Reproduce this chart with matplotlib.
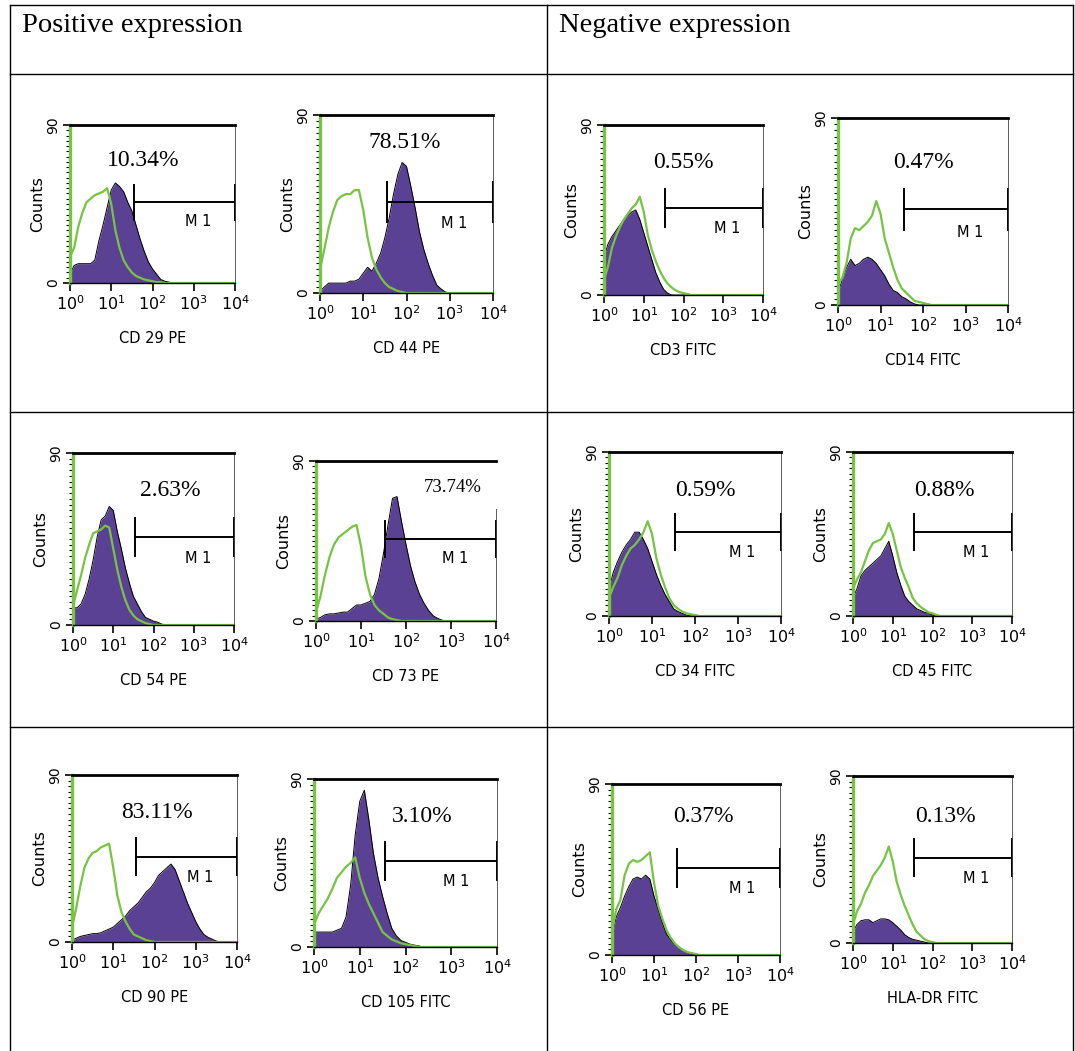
import numpy as np
import matplotlib.pyplot as plt
from matplotlib.ticker import LogLocator, MultipleLocator, NullFormatter
from matplotlib.patches import Rectangle

# channel positions in decades (0 .. 4), histogram values
DECADES = np.round(np.arange(0, 4.05, 0.1), 1)

CD29_PURPLE = [5, 10, 11, 11, 11, 11, 13, 24, 33, 43, 53, 57, 55, 52, 46, 41, 33, 25, 18, 12, 8, 5, 2, 1, 0.5, 0]
CD29_GREEN = [15, 20, 32, 40, 46, 48, 50, 51, 52, 54, 45, 30, 20, 13, 9, 6, 4, 3, 2, 1.5, 1, 0.5, 0.5, 0]
CD44_PURPLE = [1, 3, 5, 5, 5, 5, 5, 6, 6, 7, 10, 13, 11, 15, 20, 28, 38, 50, 60, 66, 64, 54, 43, 31, 22, 15, 9, 4, 2, 0.5, 0]
CD44_GREEN = [12, 22, 33, 41, 47, 49, 50, 50, 52, 52, 42, 28, 18, 12, 8, 5, 3, 2, 1, 0.5, 0]
CD3_PURPLE = [20, 27, 31, 34, 37, 40, 42, 44, 45, 40, 33, 26, 19, 12, 7, 3, 1, 0]
CD3_GREEN = [8, 15, 25, 31, 36, 40, 43, 46, 48, 52, 44, 32, 24, 18, 13, 9, 6, 4, 2.5, 1.5, 1, 0.5, 0]
CD14_PURPLE = [6, 12, 18, 22, 19, 20, 22, 23, 22, 20, 17, 14, 10, 7, 6, 4, 3, 1.5, 0.5, 0]
CD14_GREEN = [10, 13, 20, 32, 37, 36, 38, 40, 43, 50, 44, 32, 25, 18, 12, 8, 6, 4, 2, 1.5, 1, 0.5, 0]
CD54_PURPLE = [9, 9, 11, 16, 24, 34, 46, 55, 57, 62, 60, 49, 40, 30, 22, 15, 11, 7, 4, 3, 2, 1.5, 0.5, 0]
CD54_GREEN = [10, 18, 26, 35, 42, 48, 49, 50, 52, 51, 40, 29, 20, 13, 8, 5, 3, 2, 1, 0.5, 0]
CD73_PURPLE = [1, 2, 3.5, 4, 4, 4.5, 5, 5, 7, 9, 9, 10, 11, 15, 24, 38, 54, 69, 70, 56, 43, 31, 22, 15, 10, 6, 3, 1.5, 0.5, 0]
CD73_GREEN = [5, 14, 26, 36, 43, 47, 49, 51, 53, 54, 42, 25, 15, 9, 6, 4, 2, 1, 0.5, 0]
CD34_PURPLE = [15, 24, 30, 35, 39, 42, 46, 46, 42, 37, 30, 23, 17, 12, 8, 4, 2.5, 1.5, 0.5, 0]
CD34_GREEN = [10, 16, 21, 28, 33, 37, 39, 42, 46, 52, 45, 32, 23, 16, 10, 6, 4, 2.5, 1.5, 1, 0.5, 0]
CD45_PURPLE = [10, 15, 22, 25, 27, 29, 31, 33, 37, 41, 33, 24, 17, 11, 8, 6, 4, 3, 2, 1.5, 0.5, 0]
CD45_GREEN = [15, 20, 24, 30, 36, 40, 41, 42, 45, 51, 45, 36, 27, 21, 16, 10, 7, 5, 3.5, 2, 1.5, 0.5, 0]
CD90_PURPLE = [1, 2, 3, 3.5, 4, 4.5, 4.5, 5, 6, 7, 8, 10, 12, 14, 17, 19, 21, 24, 27, 29, 32, 36, 38, 40, 42,
               39, 33, 27, 21, 16, 11, 7, 4, 2.5, 1.5, 0.5, 0]
CD90_GREEN = [8, 18, 30, 40, 45, 48, 49, 51, 52, 53, 40, 25, 16, 11, 7, 4, 3, 2, 1, 0.5, 0]
CD105_PURPLE = [8, 8, 8, 8, 8, 9, 10, 16, 33, 60, 78, 84, 68, 50, 37, 27, 18, 10, 6, 3.5, 2.5, 1.5, 1, 0.5, 0]
CD105_GREEN = [12, 18, 22, 26, 31, 37, 40, 43, 45, 48, 37, 29, 23, 18, 13, 8, 6, 4, 3, 2, 1.5, 1, 0.5, 0]
CD56_PURPLE = [10, 20, 25, 31, 36, 40, 41, 40, 42, 40, 31, 24, 17, 11, 8, 5.5, 4, 2.6, 1.5, 0.5, 0]
CD56_GREEN = [12, 24, 29, 42, 48, 50, 49, 50, 52, 54, 38, 26, 19, 13, 9, 6, 4, 2.5, 1.5, 1, 0.5, 0]
HLADR_PURPLE = [6, 10, 12, 12.5, 12.5, 11, 12, 13, 13, 12.5, 11, 9, 7, 4.5, 3, 2, 1.5, 1, 0.5, 0]
HLADR_GREEN = [10, 17, 21, 27, 31, 36, 39, 42, 46, 52, 44, 33, 26, 20, 15, 10, 6, 4, 2, 1, 0.5, 0]

MARKERS = ['CD 29 PE', 'CD 44 PE', 'CD3 FITC', 'CD14 FITC',
           'CD 54 PE', 'CD 73 PE', 'CD 34 FITC', 'CD 45 FITC',
           'CD 90 PE', 'CD 105 FITC', 'CD 56 PE', 'HLA-DR FITC']
PERCENTS = ['10.34%', '78.51%', '0.55%', '0.47%',
            '2.63%', '73.74%', '0.59%', '0.88%',
            '83.11%', '3.10%', '0.37%', '0.13%']
PURPLES = [CD29_PURPLE, CD44_PURPLE, CD3_PURPLE, CD14_PURPLE,
           CD54_PURPLE, CD73_PURPLE, CD34_PURPLE, CD45_PURPLE,
           CD90_PURPLE, CD105_PURPLE, CD56_PURPLE, HLADR_PURPLE]
GREENS = [CD29_GREEN, CD44_GREEN, CD3_GREEN, CD14_GREEN,
          CD54_GREEN, CD73_GREEN, CD34_GREEN, CD45_GREEN,
          CD90_GREEN, CD105_GREEN, CD56_GREEN, HLADR_GREEN]
M1_RANGE = [35, 9900]
M1_LEVEL = 46
Y_TICKS = [0, 90]
X_TICKS = [1, 10, 100, 1000, 10000]
X_TICKLABELS = ['$10^0$', '$10^1$', '$10^2$', '$10^3$', '$10^4$']
HEADERS = ['Positive expression', 'Negative expression']

# layout in pixels: axes box (left, top, right, bottom) and percent text centre
W, H = 1075, 1051
BOXES = [(70, 125, 235, 283), (320, 115, 493, 293), (604, 125, 763, 295), (838, 118, 1008, 305),
         (73, 453, 234, 625), (316, 461, 496, 621), (609, 452, 781, 616), (853, 452, 1012, 616),
         (72, 775, 237, 942), (314, 779, 497, 947), (612, 784, 780, 955), (853, 776, 1012, 943)]
PCT_XY = [(143, 161), (405, 142), (683, 162), (923, 162),
          (170, 490), (453, 487), (705, 490), (944, 490),
          (157, 812), (422, 817), (703, 817), (945, 817)]

PURPLE = '#5b4193'
GREEN = '#76c442'
SERIF = 'Liberation Serif'

fig = plt.figure(figsize=(W / 100, H / 100), dpi=100)

# table grid
bg = fig.add_axes([0, 0, 1, 1], zorder=0)
bg.set_xlim(0, W)
bg.set_ylim(H, 0)
bg.axis('off')
for y in [5, 74, 412, 727]:
    bg.plot([10, 1073], [y, y], color='black', lw=1)
for x in [10, 547, 1073]:
    bg.plot([x, x], [5, H], color='black', lw=1)
bg.text(22, 26, HEADERS[0], family=SERIF, fontsize=20.5, va='center', ha='left')
bg.text(559, 26, HEADERS[1], family=SERIF, fontsize=20.5, va='center', ha='left')

x_vals = 10 ** DECADES
for i in range(12):
    l, t, r, b = BOXES[i]
    w_px, h_px = r - l, b - t
    ax = fig.add_axes([l / W, 1 - b / H, w_px / W, h_px / H], zorder=1)
    ax.patch.set_alpha(0)
    purple = np.zeros(len(DECADES))
    purple[:len(PURPLES[i])] = PURPLES[i]
    green = np.zeros(len(DECADES))
    green[:len(GREENS[i])] = GREENS[i]

    ax.fill_between(x_vals, purple, color=PURPLE, lw=0)
    ax.plot(x_vals, purple, color='black', lw=0.7)
    ax.plot(x_vals, green, color=GREEN, lw=1.6)

    ax.set_xscale('log')
    ax.set_xlim(1, 10000)
    ax.set_ylim(0, 90)

    # M1 gate
    ax.plot(M1_RANGE, [M1_LEVEL, M1_LEVEL], color='black', lw=1.4, clip_on=False)
    for gx in M1_RANGE:
        ax.plot([gx, gx], [M1_LEVEL - 10, M1_LEVEL + 10], color='black', lw=1.4, clip_on=False)
    ax.text(10 ** 3.1, M1_LEVEL - 11, 'M 1', fontsize=10.5, ha='center', va='center')

    for side in ['top', 'right', 'bottom', 'left']:
        ax.spines[side].set_color('black')
    ax.spines['top'].set_linewidth(2)
    ax.spines['right'].set_linewidth(0.6)
    ax.spines['right'].set_color('#444444')
    ax.spines['bottom'].set_linewidth(1)
    ax.spines['left'].set_color(GREEN)
    ax.spines['left'].set_linewidth(2.4)

    ax.set_xticks(X_TICKS, labels=X_TICKLABELS)
    ax.xaxis.set_minor_locator(LogLocator(base=10, subs=np.arange(2, 10)))
    ax.xaxis.set_minor_formatter(NullFormatter())
    ax.tick_params(axis='x', which='major', length=6, width=1.2, labelsize=11.5, pad=2)
    ax.tick_params(axis='x', which='minor', length=4, width=1)
    ax.set_yticks(Y_TICKS, labels=[str(v) for v in Y_TICKS])
    ax.yaxis.set_minor_locator(MultipleLocator(3))
    ax.tick_params(axis='y', which='major', length=5, width=1.2, labelsize=10, pad=2)
    ax.tick_params(axis='y', which='minor', length=3, width=0.8)
    for lab in ax.get_yticklabels():
        lab.set_rotation(90)
        lab.set_va('center')

    ax.set_xlabel(MARKERS[i], fontsize=10.5)
    ax.xaxis.set_label_coords(0.5, -48 / h_px)
    ax.set_ylabel('Counts', fontsize=11.5)
    ax.yaxis.set_label_coords(-25 / w_px, 0.5)

    px, py = PCT_XY[i]
    size = 13.5 if i == 5 else 17
    fig.text(px / W, 1 - py / H, PERCENTS[i], family=SERIF, fontsize=size, ha='center', va='center')
    if i == 5:
        ax.add_patch(Rectangle((0.75, 0.7), 0.3, 0.285, transform=ax.transAxes,
                               facecolor='white', edgecolor='none', clip_on=False, zorder=5))

fig.savefig('out.png', dpi=100)
